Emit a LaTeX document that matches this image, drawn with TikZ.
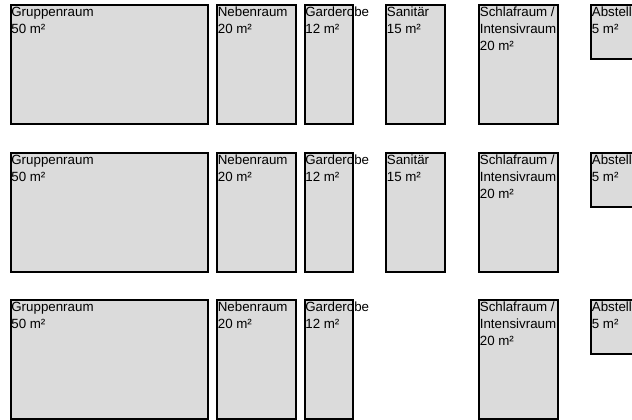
\documentclass[tikz,border=0pt]{standalone}
\usepackage{fontspec}
\setmainfont{Liberation Sans}
\begin{document}
\begin{tikzpicture}[x=0.75pt, y=-0.75pt]
  \tikzset{room/.style={rectangle, draw=black, line width=1.5pt, fill=black!14, anchor=north west, inner sep=0pt, minimum height=89.25pt}}
  \tikzset{rtxt/.style={anchor=north west, align=left, inner xsep=1.2pt, inner ysep=2pt, font=\fontsize{10}{12.75}\selectfont}}
  \tikzset{wg/.style={minimum width=148.1pt}}
  \tikzset{wn/.style={minimum width=59.25pt}}
  \tikzset{wd/.style={minimum width=36.4pt}}
  \tikzset{ws/.style={minimum width=44.25pt}}
  \tikzset{wa/.style={minimum width=45pt, minimum height=40.5pt}}
  \useasboundingbox (0,0) rectangle (632,419);
  \clip (0,0) rectangle (632,419);
  % row 1
  \node[room, wg] (gr1) at (9.5,4) {};
  \node[rtxt] at (gr1.north west) {Gruppenraum\\50 m²};
  \node[room, wn] (nr1) at (216,4) {};
  \node[rtxt] at (nr1.north west) {Nebenraum\\20 m²};
  \node[room, wd] (gd1) at (303.5,4) {};
  \node[rtxt] at (gd1.north west) {Garderobe\\12 m²};
  \node[room, ws] (sa1) at (385,4) {};
  \node[rtxt] at (sa1.north west) {Sanitär\\15 m²};
  \node[room, wn] (sf1) at (478,4) {};
  \node[rtxt] at (sf1.north west) {Schlafraum /\\Intensivraum\\20 m²};
  \node[room, wa] (ab1) at (590,4) {};
  \node[rtxt] at (ab1.north west) {Abstell\\5 m²};
  % row 2
  \node[room, wg] (gr2) at (9.5,152) {};
  \node[rtxt] at (gr2.north west) {Gruppenraum\\50 m²};
  \node[room, wn] (nr2) at (216,152) {};
  \node[rtxt] at (nr2.north west) {Nebenraum\\20 m²};
  \node[room, wd] (gd2) at (303.5,152) {};
  \node[rtxt] at (gd2.north west) {Garderobe\\12 m²};
  \node[room, ws] (sa2) at (385,152) {};
  \node[rtxt] at (sa2.north west) {Sanitär\\15 m²};
  \node[room, wn] (sf2) at (478,152) {};
  \node[rtxt] at (sf2.north west) {Schlafraum /\\Intensivraum\\20 m²};
  \node[room, wa] (ab2) at (590,152) {};
  \node[rtxt] at (ab2.north west) {Abstell\\5 m²};
  % row 3 (no Sanitär)
  \node[room, wg] (gr3) at (9.5,299) {};
  \node[rtxt] at (gr3.north west) {Gruppenraum\\50 m²};
  \node[room, wn] (nr3) at (216,299) {};
  \node[rtxt] at (nr3.north west) {Nebenraum\\20 m²};
  \node[room, wd] (gd3) at (303.5,299) {};
  \node[rtxt] at (gd3.north west) {Garderobe\\12 m²};
  \node[room, wn] (sf3) at (478,299) {};
  \node[rtxt] at (sf3.north west) {Schlafraum /\\Intensivraum\\20 m²};
  \node[room, wa] (ab3) at (590,299) {};
  \node[rtxt] at (ab3.north west) {Abstell\\5 m²};
\end{tikzpicture}
\end{document}
